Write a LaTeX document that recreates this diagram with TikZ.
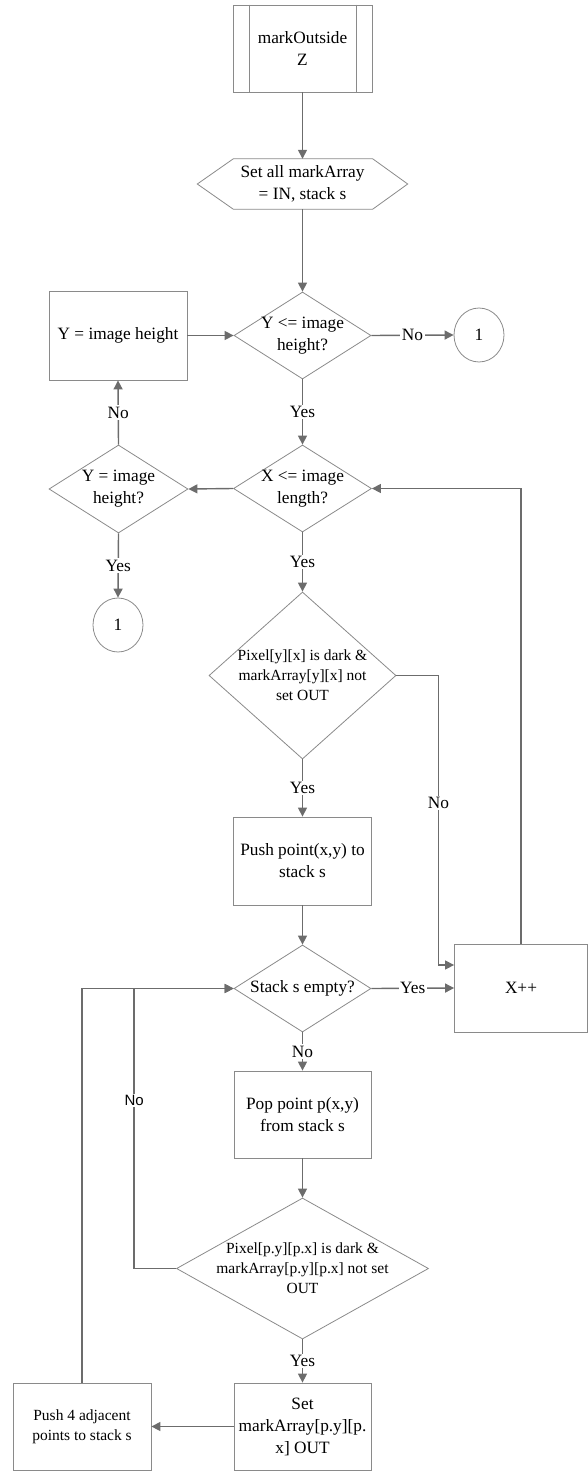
\documentclass[tikz,border=0pt]{standalone}
\usepackage{fontspec}
\setmainfont{Liberation Serif}
\newfontfamily\flowsans{Liberation Sans}
\usepackage{tikz}
\usetikzlibrary{arrows.meta,positioning,shapes.geometric}
\definecolor{flowedge}{HTML}{8A8A8A}
\definecolor{flowline}{HTML}{6C6C6C}
\newcommand{\flowfont}{\fontsize{17.3}{22}\selectfont}
\newcommand{\flowsmall}{\fontsize{15.5}{20}\selectfont}
\tikzset{
  flow-box/.style={rectangle, draw=flowedge, line width=0.8pt, align=center,
    inner sep=2pt, font=\flowfont},
  flow-decision/.style={diamond, draw=flowedge, line width=0.8pt, align=center,
    inner sep=-30pt, font=\flowfont},
  flow-terminal/.style={ellipse, draw=flowedge, line width=0.8pt, minimum width=50pt,
    minimum height=54pt, inner sep=0pt, font=\flowfont},
  flow-line/.style={draw=flowline, line width=1.4pt, -{Triangle[length=9pt,width=9pt]}},
  flow-label/.style={fill=white, inner sep=1.5pt, font=\flowfont}
}

\begin{document}
\begin{tikzpicture}[x=1pt, y=-1pt]
  \useasboundingbox (0,0) rectangle (588,1472);

  % Entry and initialisation
  \node[flow-box, minimum width=139pt, minimum height=87pt] (start) at (302.5,48.5) {markOutside\\Z};
  \draw[draw=flowedge, line width=0.8pt] ([xshift=17pt]start.north west) -- ([xshift=17pt]start.south west);
  \draw[draw=flowedge, line width=0.8pt] ([xshift=-16pt]start.north east) -- ([xshift=-16pt]start.south east);
  \node[minimum width=210pt, minimum height=50pt, inner sep=0pt, align=center, font=\flowfont] (init) at (302.5,184) {Set all markArray\\= IN, stack s};
  \draw[draw=flowedge, line width=0.8pt] (init.west) -- ([xshift=36pt]init.north west) -- ([xshift=-35pt]init.north east)
    -- (init.east) -- ([xshift=-35pt]init.south east) -- ([xshift=36pt]init.south west) -- cycle;

  % Row loop
  \node[flow-decision, minimum width=137pt, minimum height=87pt] (ychk) at (302.5,335.5) {Y <= image\\height?};
  \node[flow-box, minimum width=138pt, minimum height=89pt] (yset) at (118,335.5) {Y = image height};
  \node[flow-terminal] (endA) at (479,335) {1};

  % Column loop
  \node[flow-decision, minimum width=138pt, minimum height=87pt] (xchk) at (302.5,488.5) {X <= image\\length?};
  \node[flow-decision, minimum width=139pt, minimum height=88pt] (yend) at (118.5,489) {Y = image\\height?};
  \node[flow-terminal] (endB) at (118,625) {1};

  % Seed pixel
  \node[flow-decision, minimum width=187pt, minimum height=167pt, font=\flowsmall] (pxchk) at (302.5,675.5)
    {Pixel[y][x] is dark \&\\markArray[y][x] not\\set OUT};
  \node[flow-box, minimum width=138pt, minimum height=88pt] (push) at (302.5,861) {Push point(x,y) to\\stack s};
  \node[flow-decision, minimum width=137pt, minimum height=87pt] (empty) at (302.5,988.5) {Stack s empty?};
  \node[flow-box, minimum width=133pt, minimum height=88pt] (xinc) at (521,988) {X++};

  % Stack fill
  \node[flow-box, minimum width=137pt, minimum height=87pt] (pop) at (302.5,1114.5) {Pop point p(x,y)\\from stack s};
  \node[flow-decision, minimum width=252pt, minimum height=141pt, font=\flowsmall] (pxy) at (302.5,1268.5)
    {Pixel[p.y][p.x] is dark \&\\markArray[p.y][p.x] not set\\OUT};
  \node[flow-box, minimum width=137pt, minimum height=87pt] (setout) at (302.5,1426.5) {Set\\markArray[p.y][p.\\x] OUT};
  \node[flow-box, minimum width=138pt, minimum height=87pt, font=\flowsmall] (push4) at (82,1426.5) {Push 4 adjacent\\points to stack s};

  % Connectors
  \foreach \a/\b in {start/init, init/ychk, push/empty, pop/pxy}
    \draw[flow-line] (\a.south) -- (\b.north);
  \draw[flow-line] (yset.east) -- (ychk.west);
  \draw[flow-line] (ychk.east) -- node[flow-label] {No} (endA.west);
  \draw[flow-line] (ychk.south) -- node[flow-label] {Yes} (xchk.north);
  \draw[flow-line] (xchk.west) -- (yend.east);
  \draw[flow-line] (yend.north) -- node[flow-label] {No} (yset.south);
  \draw[flow-line] (yend.south) -- node[flow-label] {Yes} (endB.north);
  \draw[flow-line] (xchk.south) -- node[flow-label] {Yes} (pxchk.north);
  \draw[flow-line] (pxchk.south) -- node[flow-label] {Yes} (push.north);
  \draw[flow-line] (pxchk.east) -- ++(42,0) |- node[flow-label, pos=0.22] {No} ([yshift=23pt]xinc.west);
  \draw[flow-line] (empty.east) -- node[flow-label] {Yes} (xinc.west);
  \draw[flow-line] (xinc.north) |- (xchk.east);
  \draw[flow-line] (empty.south) -- node[flow-label] {No} (pop.north);
  \draw[flow-line] (pxy.south) -- node[flow-label] {Yes} (setout.north);
  \draw[flow-line] (setout.west) -- (push4.east);
  \draw[flow-line] (push4.north) |- (empty.west);
  \draw[flow-line] (pxy.west) -- ++(-42,0) |- node[flow-label, pos=0.3, font=\flowsans\fontsize{15}{18}\selectfont] {No} (empty.west);
\end{tikzpicture}
\end{document}
